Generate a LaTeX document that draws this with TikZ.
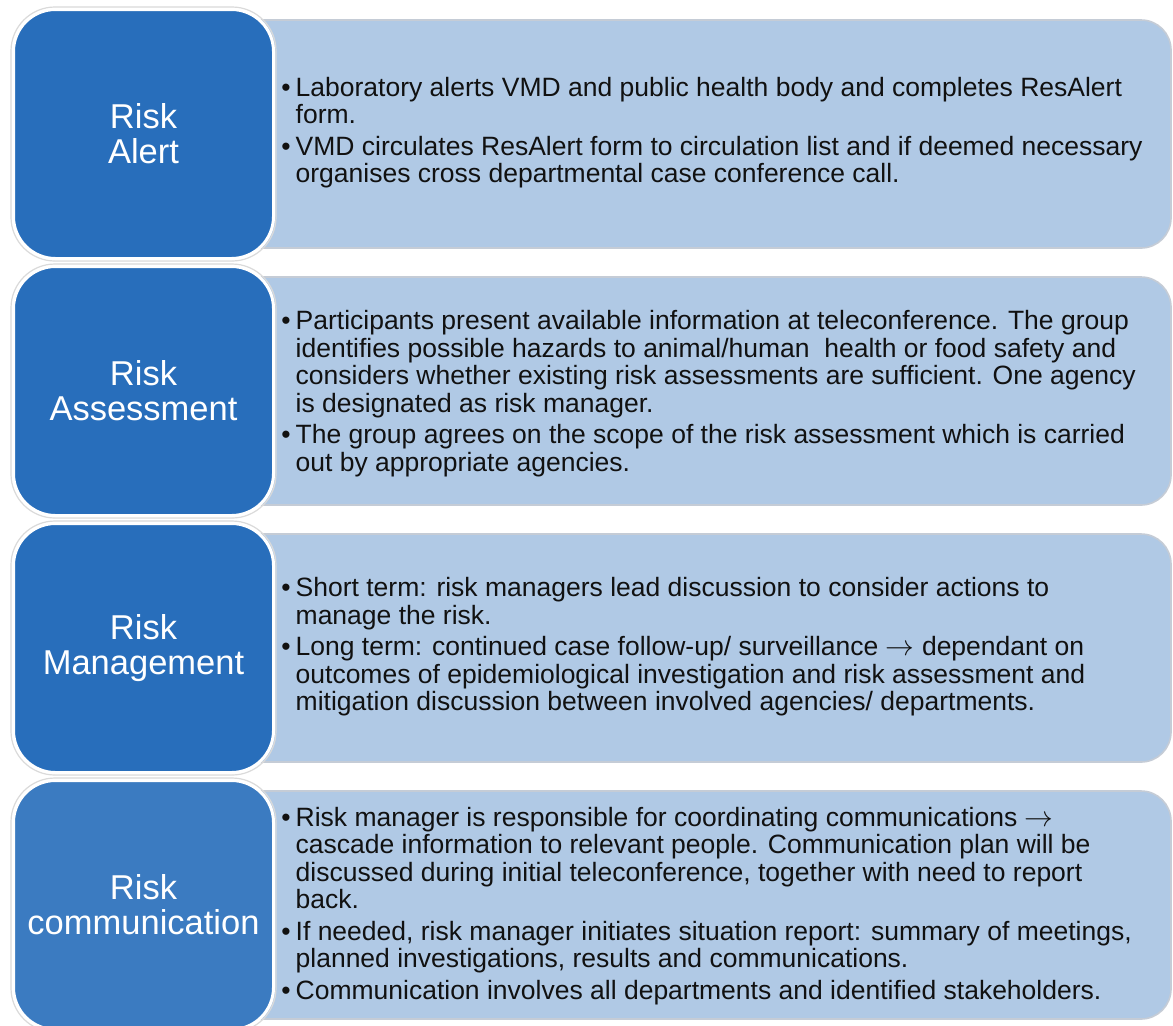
\documentclass[tikz,border=0pt]{standalone}
\usepackage{fontspec}
\setmainfont{Liberation Sans}
\definecolor{darkblue}{HTML}{286EBB}
\definecolor{midblue}{HTML}{3B7BC1}
\definecolor{paleblue}{HTML}{B0C9E5}
\definecolor{edgegrey}{HTML}{C5CCD6}
\definecolor{shadegrey}{HTML}{DADADA}
\definecolor{bodytext}{HTML}{111111}
\newcommand{\bl}{\textbullet}
\begin{document}
\begin{tikzpicture}[x=0.5pt,y=-0.5pt,
  rightbox/.style={fill=paleblue, draw=edgegrey, line width=0.8pt, rounded corners=15pt,
    minimum width=485.5pt, minimum height=114pt, inner sep=0pt},
  leftbox/.style={fill=#1, draw=white, line width=1.5pt, rounded corners=21pt,
    minimum width=130pt, minimum height=124.5pt, inner sep=0pt, align=center,
    text=white, font=\fontsize{17.25pt}{17.5pt}\selectfont},
  leftshade/.style={draw=shadegrey, line width=0.6pt, rounded corners=22pt,
    minimum width=132.5pt, minimum height=127pt, inner sep=0pt},
  bodybox/.style={anchor=west, inner sep=0pt, align=left, text=bodytext,
    font=\fontsize{13.25pt}{13.75pt}\selectfont}
]
\useasboundingbox (0,0) rectangle (1173,1025);
\fill[white] (0,0) rectangle (1173,1025);

% right boxes
\node[rightbox] (r1) at (685.5,134) {};
\node[rightbox] (r2) at (685.5,391) {};
\node[rightbox] (r3) at (685.5,648) {};
\node[rightbox] (r4) at (685.5,905) {};

% left boxes
\node[leftshade] (s1) at (143.5,134) {};
\node[leftshade] (s2) at (143.5,391) {};
\node[leftshade] (s3) at (143.5,648) {};
\node[leftshade] (s4) at (143.5,905) {};
\node[leftbox=darkblue] (l1) at (143.5,134) {Risk\\Alert};
\node[leftbox=darkblue] (l2) at (143.5,391) {Risk\\Assessment};
\node[leftbox=darkblue] (l3) at (143.5,648) {Risk\\Management};
\node[leftbox=midblue] (l4) at (143.5,905) {Risk\\communication};

% texts
\node[bodybox] (t1) at (281,134) {\begin{tabular}{@{}l@{\hspace{2.5pt}}l@{}}
\bl & Laboratory alerts VMD and public health body and completes ResAlert\\
 & form.\\[2pt]
\bl & VMD circulates ResAlert form to circulation list and if deemed necessary\\
 & organises cross departmental case conference call.
\end{tabular}};

\node[bodybox] (t2) at (281,395) {\begin{tabular}{@{}l@{\hspace{2.5pt}}l@{}}
\bl & Participants present available information at teleconference. The group\\
 & identifies possible hazards to animal/human\ \ health or food safety and\\
 & considers whether existing risk assessments are sufficient. One agency\\
 & is designated as risk manager.\\[2pt]
\bl & The group agrees on the scope of the risk assessment which is carried\\
 & out by appropriate agencies.
\end{tabular}};

\node[bodybox] (t3) at (281,648) {\begin{tabular}{@{}l@{\hspace{2.5pt}}l@{}}
\bl & Short term: risk managers lead discussion to consider actions to\\
 & manage the risk.\\[2pt]
\bl & Long term: continued case follow-up/ surveillance $\rightarrow$ dependant on\\
 & outcomes of epidemiological investigation and risk assessment and\\
 & mitigation discussion between involved agencies/ departments.
\end{tabular}};

\node[bodybox] (t4) at (281,907) {\begin{tabular}{@{}l@{\hspace{2.5pt}}l@{}}
\bl & Risk manager is responsible for coordinating communications $\rightarrow$\\
 & cascade information to relevant people. Communication plan will be\\
 & discussed during initial teleconference, together with need to report\\
 & back.\\[2pt]
\bl & If needed, risk manager initiates situation report: summary of meetings,\\
 & planned investigations, results and communications.\\[2pt]
\bl & Communication involves all departments and identified stakeholders.
\end{tabular}};
\end{tikzpicture}
\end{document}
